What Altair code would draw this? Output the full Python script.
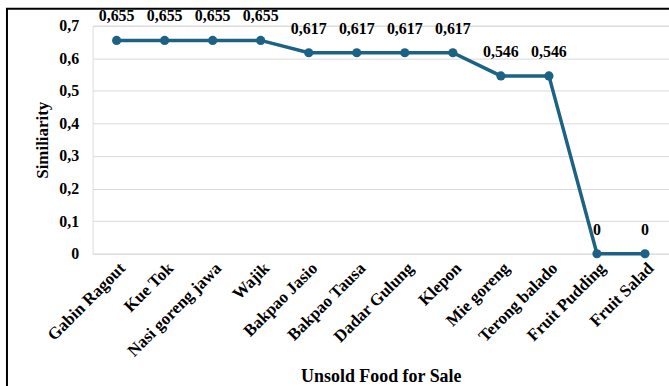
import altair as alt
import pandas as pd

foods = [
    "Gabin Ragout", "Kue Tok", "Nasi goreng jawa", "Wajik", "Bakpao Jasio",
    "Bakpao Tausa", "Dadar Gulung", "Klepon", "Mie goreng", "Terong balado",
    "Fruit Pudding", "Fruit Salad",
]
similarity = [0.655, 0.655, 0.655, 0.655, 0.617, 0.617, 0.617, 0.617,
              0.546, 0.546, 0.0, 0.0]
y_ticks = [0, 0.1, 0.2, 0.3, 0.4, 0.5, 0.6, 0.7]

df = pd.DataFrame({"food": foods, "similarity": similarity})

FONT = "Liberation Serif"
BLUE = "#1c6285"

x_enc = alt.X(
    "food:N", sort=foods, title="Unsold Food for Sale",
    scale=alt.Scale(paddingInner=1, paddingOuter=0.5),
    axis=alt.Axis(labelAngle=-45, labelFont=FONT, labelFontWeight="bold",
                  labelFontSize=17, labelColor="black", labelPadding=6,
                  ticks=False, domain=False, titleFont=FONT,
                  titleFontWeight="bold", titleFontSize=18,
                  titleColor="black", titlePadding=8),
)
y_enc = alt.Y(
    "similarity:Q", title="Similiarity",
    scale=alt.Scale(domain=[0, 0.7], nice=False),
    axis=alt.Axis(values=y_ticks,
                  labelExpr="replace(format(datum.value, '.1~f'), '.', ',')",
                  labelFont=FONT, labelFontWeight="bold", labelFontSize=16,
                  labelColor="black", labelPadding=14, ticks=False,
                  domain=False, grid=True, gridColor="#d9d9d9",
                  titleFont=FONT, titleFontWeight="bold", titleFontSize=17,
                  titleColor="black", titlePadding=7),
)

base = alt.Chart(df).encode(x=x_enc, y=y_enc)

line = base.mark_line(color=BLUE, strokeWidth=3.5)
points = base.mark_point(filled=True, color=BLUE, size=85, opacity=1)
labels = base.transform_calculate(
    label="replace(format(datum.similarity, '.3~f'), '.', ',')"
).mark_text(font=FONT, fontWeight="bold", fontSize=16, color="black",
            baseline="alphabetic", dy=-19).encode(text="label:N")

frame = alt.Chart(alt.Data(values=[{}])).mark_rect(
    fill=None, stroke="black", strokeWidth=2
).encode(x=alt.value(-86), y=alt.value(-17),
         x2=alt.value(700), y2=alt.value(500))

chart = alt.layer(line, points, labels, frame).properties(
    width=579, height=229,
    autosize=alt.AutoSizeParams(type="none"),
    padding={"left": 93, "top": 25, "right": 0, "bottom": 132},
).configure_view(stroke=None).configure(background="white")

chart.save("out.html", embed_options={"renderer": "svg", "actions": False})
